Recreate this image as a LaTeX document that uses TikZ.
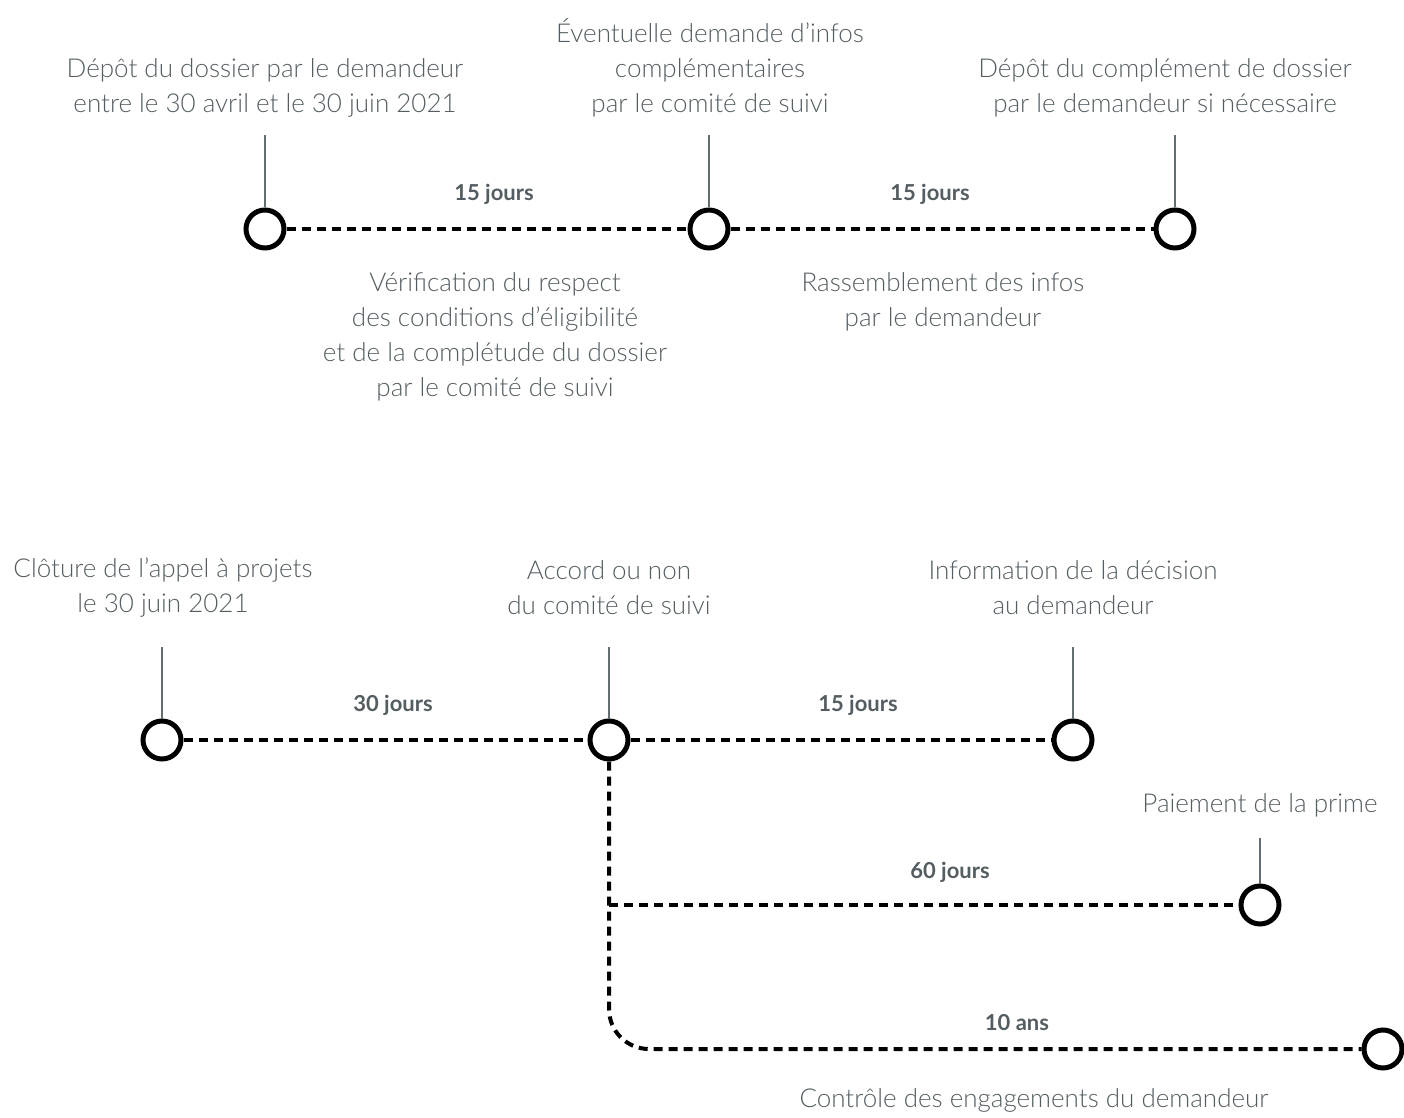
\documentclass[tikz,border=0pt]{standalone}
\usepackage{fontspec}
\setmainfont{Lato}[UprightFont={* Light},BoldFont={* Bold}]
\usepackage{tikz}
\usetikzlibrary{positioning}

\definecolor{txtgray}{HTML}{545D61}
\definecolor{stemgray}{HTML}{646E70}

\tikzset{
  step node/.style={circle, draw=black, line width=2.5pt, minimum size=19pt, inner sep=0pt, fill=white},
  dashline/.style={black, line width=2pt, dash pattern=on 4.5pt off 3pt},
  stem/.style={stemgray, line width=1pt},
  lab/.style={text=txtgray, align=center, font=\fontsize{13}{17.5}\selectfont, inner sep=0pt},
  dur/.style={text=txtgray, font=\fontsize{11}{12}\selectfont\bfseries, inner sep=0pt}
}

\begin{document}
\begin{tikzpicture}[x=0.5pt,y=-0.5pt]
            \useasboundingbox (0,0) rectangle (1404,1118);

            % first row
            \node[step node] (depot)   at (265,229)  {};
            \node[step node] (demande) at (709,229)  {};
            \node[step node] (compl)   at (1175,229) {};

            \draw[dashline] (depot)   -- (demande);
            \draw[dashline] (demande) -- (compl);

            \draw[stem] (depot.north)   -- ++(0,-72);
            \draw[stem] (demande.north) -- ++(0,-72);
            \draw[stem] (compl.north)   -- ++(0,-72);

            \node[lab] (tdepot)   at (265,88)   {Dépôt du dossier par le demandeur\\entre le 30 avril et le 30 juin 2021};
            \node[lab] (tdemande) at (710,68)   {Éventuelle demande d’infos\\complémentaires\\par le comité de suivi};
            \node[lab] (tcompl)   at (1165,88)  {Dépôt du complément de dossier\\par le demandeur si nécessaire};

            \node[dur] (d15a) at (494,194) {15 jours};
            \node[dur] (d15b) at (930,194) {15 jours};

            \node[lab] (tverif)  at (495,337) {Vérification du respect\\des conditions d’éligibilité\\et de la complétude du dossier\\par le comité de suivi};
            \node[lab] (tinfos)  at (943,302) {Rassemblement des infos\\par le demandeur};

            % second row
            \node[step node] (cloture) at (162,740)  {};
            \node[step node] (accord)  at (609,740)  {};
            \node[step node] (info)    at (1073,740) {};
            \node[step node] (paie)    at (1260,905) {};
            \node[step node] (ctrl)    at (1383,1049) {};
            \coordinate (branch) at (609,905);

            \draw[dashline] (cloture) -- (accord);
            \draw[dashline] (accord)  -- (info);
            \draw[dashline, rounded corners=20pt] (accord) |- (ctrl);
            \draw[dashline] (branch)  -- (paie);

            \draw[stem] (cloture.north) -- ++(0,-72);
            \draw[stem] (accord.north)  -- ++(0,-72);
            \draw[stem] (info.north)    -- ++(0,-72);
            \draw[stem] (paie.north)    -- ++(0,-46);

            \node[lab] (tcloture) at (163,588)  {Clôture de l’appel à projets\\le 30 juin 2021};
            \node[lab] (taccord)  at (609,588)  {Accord ou non\\du comité de suivi};
            \node[lab] (tinfo)    at (1073,588) {Information de la décision\\au demandeur};
            \node[lab] (tpaie)    at (1260,805) {Paiement de la prime};
            \node[lab] (tctrl)    at (1034,1100) {Contrôle des engagements du demandeur};

            \node[dur] (d30) at (393,705)  {30 jours};
            \node[dur] (d15c) at (858,705) {15 jours};
            \node[dur] (d60) at (950,872)  {60 jours};
            \node[dur] (d10) at (1017,1023) {10 ans};
        \end{tikzpicture}
\end{document}
